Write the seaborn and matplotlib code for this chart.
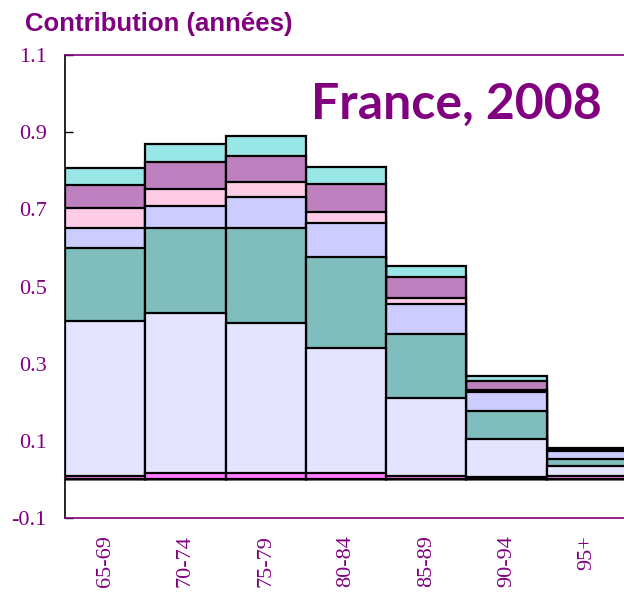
import numpy as np
import pandas as pd
import matplotlib
matplotlib.use("Agg")
import matplotlib.pyplot as plt
import seaborn as sns

# === data ===
ages = ["65-69", "70-74", "75-79", "80-84", "85-89", "90-94", "95+"]
magenta = [0.010, 0.016, 0.016, 0.016, 0.008, 0.005, 0.008]
lavender = [0.400, 0.415, 0.389, 0.325, 0.204, 0.099, 0.028]
teal = [0.191, 0.221, 0.248, 0.235, 0.166, 0.073, 0.016]
periwinkle = [0.052, 0.058, 0.078, 0.088, 0.078, 0.050, 0.021]
pink = [0.051, 0.042, 0.041, 0.029, 0.015, 0.006, 0.003]
orchid = [0.058, 0.071, 0.067, 0.073, 0.053, 0.021, 0.003]
cyan = [0.044, 0.046, 0.052, 0.043, 0.029, 0.013, 0.003]
yticks = [-0.1, 0.1, 0.3, 0.5, 0.7, 0.9, 1.1]

layers = [magenta, lavender, teal, periwinkle, pink, orchid, cyan]
colors = ["#FF80FF", "#E4E4FF", "#80BEBE", "#CCCCFF", "#FFCCE6", "#BF80BF", "#99E6E6"]

df = pd.DataFrame({"age": ages})
cum = np.cumsum(np.array(layers), axis=0)

# === style ===
sns.set_style("white")
plt.rcParams['font.family'] = ['Liberation Serif', 'DejaVu Serif']
purple = "#800080"

fig = plt.figure(figsize=(6.24, 5.92), dpi=100)
ax = fig.add_axes([0.104, 0.125, 0.901, 0.782])

# stacked bars: draw cumulative totals from the top layer down
for i in range(len(layers) - 1, -1, -1):
    df["v"] = cum[i]
    sns.barplot(data=df, x="age", y="v", color=colors[i], saturation=1,
                width=1.0, edgecolor="black", linewidth=1.6,
                errorbar=None, ax=ax)

ax.set_xlim(-0.5, 6.5)
ax.set_ylim(-0.1, 1.1)
ax.set_yticks(yticks)
ax.set_yticklabels([f"{t:g}" for t in yticks])
ax.set(xlabel="", ylabel="")
ax.tick_params(axis="y", direction="in", length=6, width=1, color="black",
               labelcolor=purple, labelsize=16, pad=13, left=True)
ax.tick_params(axis="x", length=0, labelcolor=purple, labelsize=16,
               labelrotation=90, pad=12)

for side in ["top", "bottom"]:
    ax.spines[side].set_color(purple)
    ax.spines[side].set_linewidth(1.2)
ax.spines["left"].set_color("black")
ax.spines["left"].set_linewidth(1.2)

fig.text(0.04, 0.960, "Contribution (années)", color=purple, fontsize=18.5,
         fontweight="bold", family=["Liberation Sans", "DejaVu Sans"], va="center")
ax.text(0.955, 0.894, "France, 2008", transform=ax.transAxes, color=purple,
        fontsize=36, fontweight="bold", family=["Lato", "DejaVu Sans"],
        ha="right", va="center")

plt.savefig("out.png", dpi=100)
